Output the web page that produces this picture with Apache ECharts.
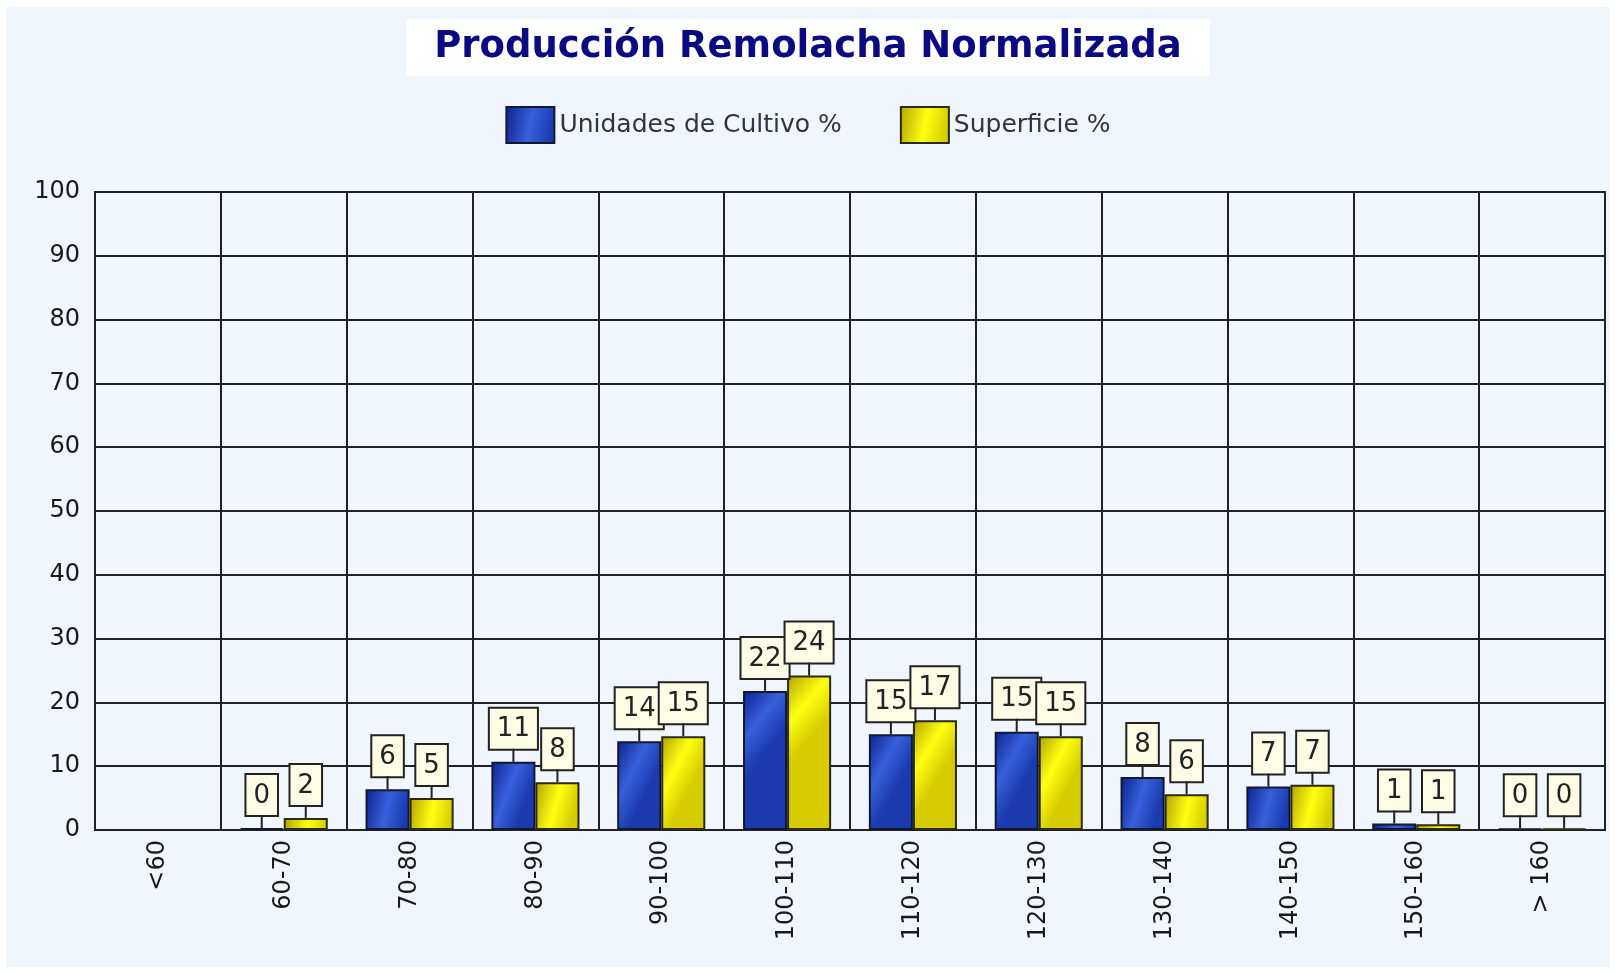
<!DOCTYPE html>
<html>
<head>
<meta charset="utf-8">
<script src="https://cdn.jsdelivr.net/npm/echarts@6/dist/echarts.min.js"></script>
<style>
  html, body { margin: 0; padding: 0; background: #ffffff; }
  #chart { width: 1616px; height: 973px; }
</style>
</head>
<body>
<div id="chart"></div>
<script>
// datos del gráfico
var categorias = ['<60', '60-70', '70-80', '80-90', '90-100', '100-110', '110-120', '120-130', '130-140', '140-150', '150-160', '> 160'];
var unidadesCultivo = ['-', 0.3, 6.4, 10.7, 13.9, 21.8, 15.0, 15.4, 8.3, 6.8, 1.0, 0.2];
var superficie = ['-', 1.9, 5.0, 7.5, 14.7, 24.2, 17.2, 14.7, 5.6, 7.1, 0.9, 0.2];
var ticksY = [0, 10, 20, 30, 40, 50, 60, 70, 80, 90, 100];

var myChart = echarts.init(document.getElementById('chart'));

function degradado(c0, c1, c2) {
    return new echarts.graphic.LinearGradient(0, 0, 1, 0.25, [
        { offset: 0, color: c0 },
        { offset: 0.55, color: c1 },
        { offset: 1, color: c2 }
    ]);
}

// etiqueta: caja con el valor y un palito hasta la barra
var etiqueta = {
    show: true,
    position: 'top',
    distance: 0,
    formatter: function (p) { return '{caja|' + Math.round(p.value) + '}\n{palo| }'; },
    rich: {
        caja: {
            fontFamily: 'DejaVu Sans',
            fontSize: 26,
            height: 26,
            lineHeight: 40,
            color: '#222',
            backgroundColor: '#FFFCE6',
            borderColor: '#222',
            borderWidth: 2,
            padding: [8, 7, 6, 7],
            align: 'center'
        },
        palo: {
            fontSize: 2,
            width: 2,
            height: 13,
            lineHeight: 13,
            backgroundColor: '#222',
            align: 'center'
        }
    }
};

var option = {
    backgroundColor: '#ffffff',
    animation: false,
    graphic: [{
        type: 'rect',
        z: -10,
        silent: true,
        shape: { x: 6, y: 7, width: 1604, height: 960 },
        style: { fill: '#F0F6FC' }
    }],
    title: {
        text: 'Producción Remolacha Normalizada',
        left: 'center',
        top: 19,
        backgroundColor: '#ffffff',
        padding: [10, 28, 10, 28],
        textStyle: {
            fontFamily: 'DejaVu Sans',
            fontWeight: 'bold',
            fontSize: 37,
            color: '#0A0A82'
        }
    },
    legend: {
        top: 101,
        left: 'center',
        icon: 'rect',
        itemWidth: 48,
        itemHeight: 36,
        itemGap: 58,
        itemTextGap: 15,
        textStyle: { fontFamily: 'DejaVu Sans', fontSize: 25, color: '#333340' },
        data: ['Unidades de Cultivo %', 'Superficie %']
    },
    grid: {
        left: 95,
        right: 11,
        top: 192,
        bottom: 143,
        show: true,
        backgroundColor: '#F0F6FC',
        borderColor: '#222',
        borderWidth: 2
    },
    xAxis: {
        type: 'category',
        data: categorias,
        axisLine: { lineStyle: { color: '#222', width: 2 } },
        axisTick: { show: false },
        splitLine: { show: true, lineStyle: { color: '#222', width: 2 } },
        axisLabel: {
            rotate: 90,
            margin: 10,
            fontFamily: 'DejaVu Sans',
            fontSize: 24,
            color: '#1a1a1a'
        }
    },
    yAxis: {
        type: 'value',
        min: ticksY[0],
        max: ticksY[ticksY.length - 1],
        interval: 10,
        axisLine: { show: true, lineStyle: { color: '#222', width: 2 } },
        axisTick: { show: false },
        splitLine: { lineStyle: { color: '#222', width: 2 } },
        axisLabel: {
            margin: 15,
            fontFamily: 'DejaVu Sans',
            fontSize: 24,
            color: '#1a1a1a'
        }
    },
    series: [
        {
            name: 'Unidades de Cultivo %',
            type: 'bar',
            barWidth: '35%',
            barGap: '0%',
            data: unidadesCultivo,
            itemStyle: {
                color: degradado('#0C2290', '#3760DA', '#1A3AAE'),
                borderColor: '#111830',
                borderWidth: 2
            },
            label: etiqueta
        },
        {
            name: 'Superficie %',
            type: 'bar',
            barWidth: '35%',
            barGap: '0%',
            data: superficie,
            itemStyle: {
                color: degradado('#B0A200', '#FFFF12', '#D6CC00'),
                borderColor: '#2a2a10',
                borderWidth: 2
            },
            label: etiqueta
        }
    ]
};

myChart.setOption(option);
</script>
</body>
</html>
